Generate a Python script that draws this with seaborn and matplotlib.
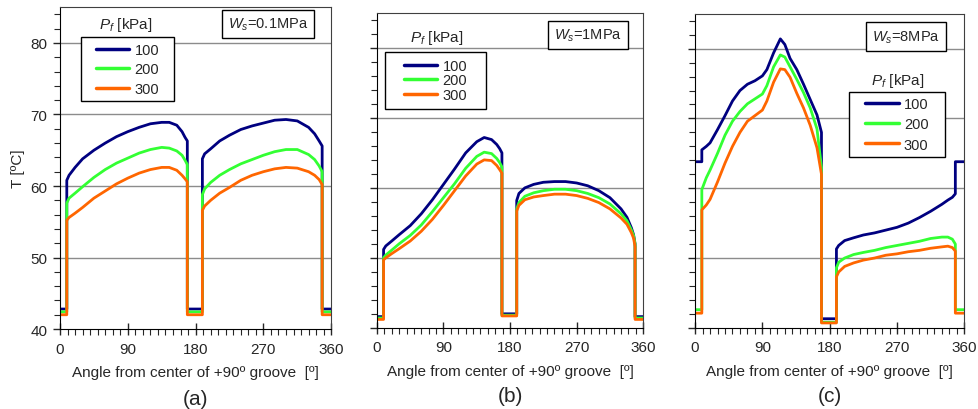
import numpy as np
import pandas as pd
import seaborn as sn
import matplotlib.pyplot as plt
from matplotlib.patches import Rectangle
from matplotlib.ticker import MultipleLocator

# feed pressure levels [kPa] and their colours
pressures = ["100", "200", "300"]
palette = {"100": "#000080", "200": "#33ff33", "300": "#ff6600"}
panel_tags = ["(a)", "(b)", "(c)"]
ws_labels = [r"$W_s$=0.1MPa", r"$W_s$=1MPa", r"$W_s$=8MPa"]

# (a) Ws = 0.1 MPa
ang_a = [0, 9, 9, 12, 20, 30, 45, 60, 75, 90, 105, 120, 135, 145, 155, 162, 166, 169, 169, 189,
         189, 192, 200, 212, 225, 240, 255, 270, 285, 300, 315, 330, 338, 344, 348, 348, 360]
t_a_100 = [42.8, 42.8, 60.8, 61.5, 62.6, 63.8, 65.0, 66.0, 66.9, 67.6, 68.2, 68.7, 68.9, 68.9, 68.5,
           67.6, 66.8, 66.3, 42.8, 42.8, 63.8, 64.5, 65.2, 66.3, 67.1, 67.9, 68.4, 68.8, 69.2, 69.3,
           69.1, 68.2, 67.3, 66.3, 65.6, 42.8, 42.8]
t_a_200 = [42.4, 42.4, 57.6, 58.3, 59.0, 59.9, 61.2, 62.3, 63.2, 63.9, 64.6, 65.1, 65.4, 65.3, 64.9,
           64.3, 63.6, 63.0, 42.4, 42.4, 58.8, 59.6, 60.5, 61.5, 62.3, 63.1, 63.7, 64.3, 64.8, 65.1,
           65.1, 64.4, 63.7, 62.8, 62.0, 42.4, 42.4]
t_a_300 = [42.0, 42.0, 55.2, 55.6, 56.2, 57.0, 58.3, 59.3, 60.3, 61.1, 61.8, 62.3, 62.6, 62.6, 62.2,
           61.5, 61.0, 60.6, 42.0, 42.0, 56.6, 57.2, 58.0, 59.0, 59.8, 60.8, 61.5, 62.0, 62.4, 62.6,
           62.5, 62.0, 61.5, 60.9, 60.2, 42.0, 42.0]

# (b) Ws = 1 MPa
ang_b = [0, 9, 9, 12, 20, 30, 45, 60, 75, 90, 105, 120, 135, 145, 155, 162, 166, 169, 169, 189,
         189, 192, 200, 212, 225, 240, 255, 270, 285, 300, 315, 330, 338, 344, 347, 349, 349, 360]
t_b_100 = [41.6, 41.6, 51.2, 51.7, 52.4, 53.3, 54.6, 56.3, 58.3, 60.5, 62.7, 65.0, 66.6, 67.2, 66.9,
           66.2, 65.6, 65.0, 42.0, 42.0, 58.2, 59.2, 60.0, 60.5, 60.8, 60.9, 60.9, 60.7, 60.3, 59.6,
           58.6, 57.0, 55.8, 54.3, 53.3, 52.0, 41.6, 41.6]
t_b_200 = [41.4, 41.4, 50.0, 50.4, 51.1, 52.0, 53.2, 54.7, 56.6, 58.6, 60.6, 62.8, 64.5, 65.1, 64.9,
           64.2, 63.6, 63.0, 41.8, 41.8, 57.0, 57.9, 58.8, 59.3, 59.6, 59.8, 59.8, 59.6, 59.2, 58.6,
           57.7, 56.3, 55.3, 54.0, 53.2, 52.0, 41.4, 41.4]
t_b_300 = [41.2, 41.2, 49.7, 50.0, 50.6, 51.3, 52.4, 53.8, 55.5, 57.5, 59.6, 61.7, 63.4, 64.0, 63.9,
           63.2, 62.6, 62.1, 41.7, 41.7, 56.7, 57.5, 58.3, 58.7, 58.9, 59.1, 59.1, 58.9, 58.5, 57.9,
           57.0, 55.7, 54.8, 53.6, 52.8, 51.6, 41.2, 41.2]

# (c) Ws = 8 MPa
ang_c = [0, 9, 9, 15, 20, 30, 40, 50, 60, 70, 80, 90, 96, 105, 114, 120, 127, 136, 145, 154,
         163, 169, 169, 189, 189, 192, 200, 212, 225, 240, 255, 270, 285, 300, 315, 330, 338, 344,
         348, 348, 360]
t_c_100 = [63.8, 63.8, 65.5, 66.0, 66.5, 68.4, 70.4, 72.5, 74.0, 74.9, 75.4, 76.1, 77.0, 79.4, 81.4,
           80.6, 78.6, 77.0, 74.9, 72.7, 70.5, 68.0, 41.3, 41.3, 51.3, 51.8, 52.5, 52.9, 53.3, 53.6,
           54.0, 54.4, 55.0, 55.8, 56.7, 57.7, 58.3, 58.7, 59.2, 63.8, 63.8]
t_c_200 = [42.6, 42.6, 59.8, 61.5, 62.6, 65.0, 67.6, 69.6, 71.0, 72.1, 72.8, 73.5, 74.7, 77.4, 79.1,
           78.8, 77.4, 75.6, 73.7, 71.5, 68.5, 63.0, 40.8, 40.8, 48.6, 49.4, 50.0, 50.5, 50.8, 51.1,
           51.5, 51.8, 52.1, 52.4, 52.8, 53.0, 53.0, 52.7, 52.0, 42.6, 42.6]
t_c_300 = [42.1, 42.1, 56.9, 57.6, 58.4, 60.9, 63.6, 66.0, 68.0, 69.6, 70.4, 71.2, 72.5, 75.2, 77.1,
           77.0, 75.9, 73.6, 71.5, 69.0, 65.8, 62.0, 40.7, 40.7, 47.3, 48.0, 48.8, 49.3, 49.7, 50.0,
           50.4, 50.6, 50.9, 51.1, 51.4, 51.6, 51.7, 51.5, 51.0, 42.1, 42.1]


def to_long(ang, series):
    frames = []
    for p, t in zip(pressures, series):
        frames.append(pd.DataFrame({"angle": ang, "T": t, "Pf": p}))
    return pd.concat(frames, ignore_index=True)


data = [to_long(ang_a, [t_a_100, t_a_200, t_a_300]),
        to_long(ang_b, [t_b_100, t_b_200, t_b_300]),
        to_long(ang_c, [t_c_100, t_c_200, t_c_300])]

sn.set_style("ticks")
plt.rcParams["font.family"] = ["Liberation Sans", "DejaVu Sans"]
plt.rcParams["mathtext.fontset"] = "custom"
plt.rcParams["mathtext.rm"] = "Liberation Sans"
plt.rcParams["mathtext.it"] = "Liberation Sans:italic"

fig = plt.figure(figsize=(9.79, 4.10), dpi=100)
boxes = [[0.0613, 0.195, 0.277, 0.785],
         [0.385, 0.198, 0.272, 0.768],
         [0.710, 0.198, 0.275, 0.766]]

# legend frame (x0, y0, w, h), title pos, row spacing, Ws box pos  -- axes coords
leg_style = [
    dict(rect=(0.076, 0.708, 0.346, 0.199), title=(0.244, 0.947), spacing=0.38, ws=(0.945, 0.948)),
    dict(rect=(0.030, 0.695, 0.379, 0.181), title=(0.224, 0.924), spacing=0.05, ws=(0.951, 0.930)),
    dict(rect=(0.570, 0.544, 0.359, 0.207), title=(0.753, 0.788), spacing=0.42, ws=(0.940, 0.928)),
]

for i, df in enumerate(data):
    ax = fig.add_axes(boxes[i])
    sn.lineplot(data=df, x="angle", y="T", hue="Pf", hue_order=pressures, palette=palette,
                estimator=None, sort=False, linewidth=2.0, ax=ax)
    handles, labels = ax.get_legend_handles_labels()
    ax.get_legend().remove()

    ax.set_xlim(0, 360)
    ax.set_ylim(40, 85)
    ax.set_xticks([0, 90, 180, 270, 360])
    ax.xaxis.set_minor_locator(MultipleLocator(10))
    ax.set_yticks([40, 50, 60, 70, 80])
    ax.yaxis.set_minor_locator(MultipleLocator(2))
    ax.tick_params(axis="x", which="major", direction="inout", length=8, width=1, labelsize=11, pad=5)
    ax.tick_params(axis="x", which="minor", direction="out", length=4, width=0.8)
    ax.tick_params(axis="y", which="major", direction="out", length=5, width=1, labelsize=11, pad=4)
    ax.tick_params(axis="y", which="minor", direction="out", length=4, width=0.8)
    for y in [50, 60, 70, 80]:
        ax.axhline(y, color="#8c8c8c", lw=1.0, zorder=0.5)
    for s in ["top", "right"]:
        ax.spines[s].set_color("#404040")
    for s in ["left", "bottom"]:
        ax.spines[s].set_color("black")

    ax.set_xlabel("Angle from center of +90º groove  [º]", fontsize=11, labelpad=7)
    if i == 0:
        ax.set_ylabel("T [ºC]", fontsize=11, labelpad=4)
    else:
        ax.set_ylabel("")
        ax.tick_params(axis="y", labelleft=False)
    ax.text(0.5, -0.215, panel_tags[i], transform=ax.transAxes, ha="center", va="center",
            fontsize=15)

    st = leg_style[i]
    x0, y0, w, h = st["rect"]
    ax.add_patch(Rectangle((x0, y0), w, h, transform=ax.transAxes, facecolor="white",
                           edgecolor="black", lw=1.0, zorder=4))
    leg = ax.legend(handles, labels, loc="center", bbox_to_anchor=(x0 + w / 2, y0 + h / 2),
                    frameon=False, fontsize=10.5, handlelength=2.3, handletextpad=0.35,
                    labelspacing=st["spacing"], borderpad=0)
    for ln in leg.get_lines():
        ln.set_linewidth(2.5)
    leg.set_zorder(5)
    ax.text(st["title"][0], st["title"][1], r"$P_f$ [kPa]", transform=ax.transAxes,
            ha="center", va="center", fontsize=11, zorder=5)
    ax.text(st["ws"][0] - 0.03, st["ws"][1], ws_labels[i], transform=ax.transAxes,
            ha="right", va="center", fontsize=10.5, zorder=6,
            bbox=dict(boxstyle="square,pad=0.42", facecolor="white", edgecolor="black", lw=1.0))

fig.savefig("out.png", dpi=100)
